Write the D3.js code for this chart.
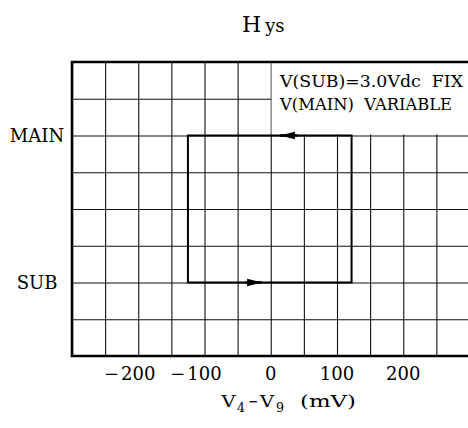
<!DOCTYPE html>
<html>
<head>
<meta charset="utf-8">
<script src="https://cdn.jsdelivr.net/npm/d3@7"></script>
<style>
  html, body { margin: 0; padding: 0; background: #fff; }
  svg { display: block; }
  text { font-family: "DejaVu Serif", serif; fill: #000; }
</style>
</head>
<body>
<svg id="chart" width="468" height="428"></svg>
<script>
// ---- data ----
const xDomain = [-300, 300];           // V4 - V9 (mV)
const xGridStep = 50;
const xTickValues = [-200, -100, 0, 100, 200];
const yDomain = [0, 8];                // 8 grid rows
const yLevelNames = ["SUB", "MAIN"];
const yLevelValues = [2, 6];
const loopLeft = -125;                 // mV where switch to SUB happens
const loopRight = 122;                 // mV where switch to MAIN happens
const arrowLevels = ["SUB", "MAIN"];
const arrowBase = [-39, 40];           // mV
const arrowTip = [-13, 14];            // mV
const legendLines = ["V(SUB)=3.0Vdc  FIX", "V(MAIN)  VARIABLE"];

// ---- layout ----
const svg = d3.select("#chart");
const L = 72, R = 469.5, T = 62, B = 356;
const x = d3.scaleLinear().domain(xDomain).range([L, R]);
const y = d3.scaleLinear().domain(yDomain).range([B, T]);
const levelY = name => y(yLevelValues[yLevelNames.indexOf(name)]);

// grid via axes
const gx = d3.range(xDomain[0], xDomain[1] + 1, xGridStep);
const gy = d3.range(yDomain[0], yDomain[1] + 1, 1);
svg.append("g")
  .attr("transform", `translate(0,${B})`)
  .call(d3.axisBottom(x).tickValues(gx).tickSize(-(B - T)).tickFormat(""))
  .call(g => g.select(".domain").remove())
  .call(g => g.selectAll("line").attr("stroke", "#111").attr("stroke-width", 1.1));
svg.append("g")
  .attr("transform", `translate(${L},0)`)
  .call(d3.axisLeft(y).tickValues(gy).tickSize(-(R - L)).tickFormat(""))
  .call(g => g.select(".domain").remove())
  .call(g => g.selectAll("line").attr("stroke", "#111").attr("stroke-width", 1.1));

// legend box (white, covers grid)
svg.append("rect")
  .attr("x", x(0) + 0.8).attr("y", T + 1)
  .attr("width", R - x(0) + 5).attr("height", levelY("MAIN") - T - 2)
  .attr("fill", "#fff");
svg.selectAll("text.leg").data(legendLines).join("text")
  .attr("class", "leg")
  .attr("x", 280).attr("y", (d, i) => 87 + i * 23)
  .attr("font-size", 17)
  .attr("textLength", (d, i) => i === 0 ? 183 : 172)
  .attr("lengthAdjust", "spacingAndGlyphs")
  .style("white-space", "pre")
  .text(d => d);

// frame
svg.append("path")
  .attr("d", `M${R + 3},${T} H${L} V${B} H${R + 3}`)
  .attr("fill", "none").attr("stroke", "#000").attr("stroke-width", 2.6);

// hysteresis loop
const loopPts = [
  [loopLeft, "SUB"], [loopRight, "SUB"], [loopRight, "MAIN"], [loopLeft, "MAIN"]
];
svg.append("path")
  .attr("d", d3.line().x(d => x(d[0])).y(d => levelY(d[1])).curve(d3.curveLinearClosed)(loopPts))
  .attr("fill", "none").attr("stroke", "#000").attr("stroke-width", 2);

// arrows
arrowLevels.forEach((lv, i) => {
  const yy = levelY(lv);
  const xb = x(arrowBase[i]), xt = x(arrowTip[i]);
  svg.append("line").attr("x1", xb).attr("x2", xt).attr("y1", yy).attr("y2", yy)
    .attr("stroke", "#000").attr("stroke-width", 2.6);
  const dir = Math.sign(xt - xb);
  const hb = xt - dir * 15;
  svg.append("path")
    .attr("d", `M${xt},${yy} L${hb},${yy - 3.8} L${hb},${yy + 3.8} Z`)
    .attr("fill", "#000");
});

// y level labels
svg.selectAll("text.ylab").data(yLevelNames).join("text")
  .attr("class", "ylab")
  .attr("x", 37).attr("y", d => levelY(d))
  .attr("dy", "0.36em")
  .attr("text-anchor", "middle")
  .attr("font-size", 18)
  .text(d => d);

// x tick labels (minus sign hangs to the left of the centred digits)
xTickValues.forEach(v => {
  const t = svg.append("text")
    .attr("x", x(v)).attr("y", 380)
    .attr("text-anchor", "middle")
    .attr("font-size", 18)
    .text(String(Math.abs(v)));
  if (v < 0) {
    const w = t.node().getComputedTextLength();
    svg.append("text")
      .attr("x", x(v) - w / 2 - 2).attr("y", 380)
      .attr("text-anchor", "end")
      .attr("font-size", 18)
      .text("\u2212");
  }
});

// title
const title = svg.append("text").attr("x", 242).attr("y", 32);
title.append("tspan").attr("font-size", 22).text("H");
title.append("tspan").attr("font-size", 18).attr("dx", 4).text("ys");

// x axis title
const xt = [
  {t: "V", x: 221.5, y: 407, fs: 16, w: 14},
  {t: "4", x: 237, y: 412, fs: 13, w: 8},
  {t: "\u2212", x: 248, y: 407, fs: 16, w: 10},
  {t: "V", x: 260, y: 407, fs: 16, w: 14},
  {t: "9", x: 276, y: 412, fs: 13, w: 8},
  {t: "(mV)", x: 300, y: 407, fs: 17, w: 56}
];
svg.selectAll("text.xt").data(xt).join("text")
  .attr("class", "xt")
  .attr("x", d => d.x).attr("y", d => d.y)
  .attr("font-size", d => d.fs)
  .attr("textLength", d => d.w)
  .attr("lengthAdjust", "spacingAndGlyphs")
  .text(d => d.t);
</script>
</body>
</html>
